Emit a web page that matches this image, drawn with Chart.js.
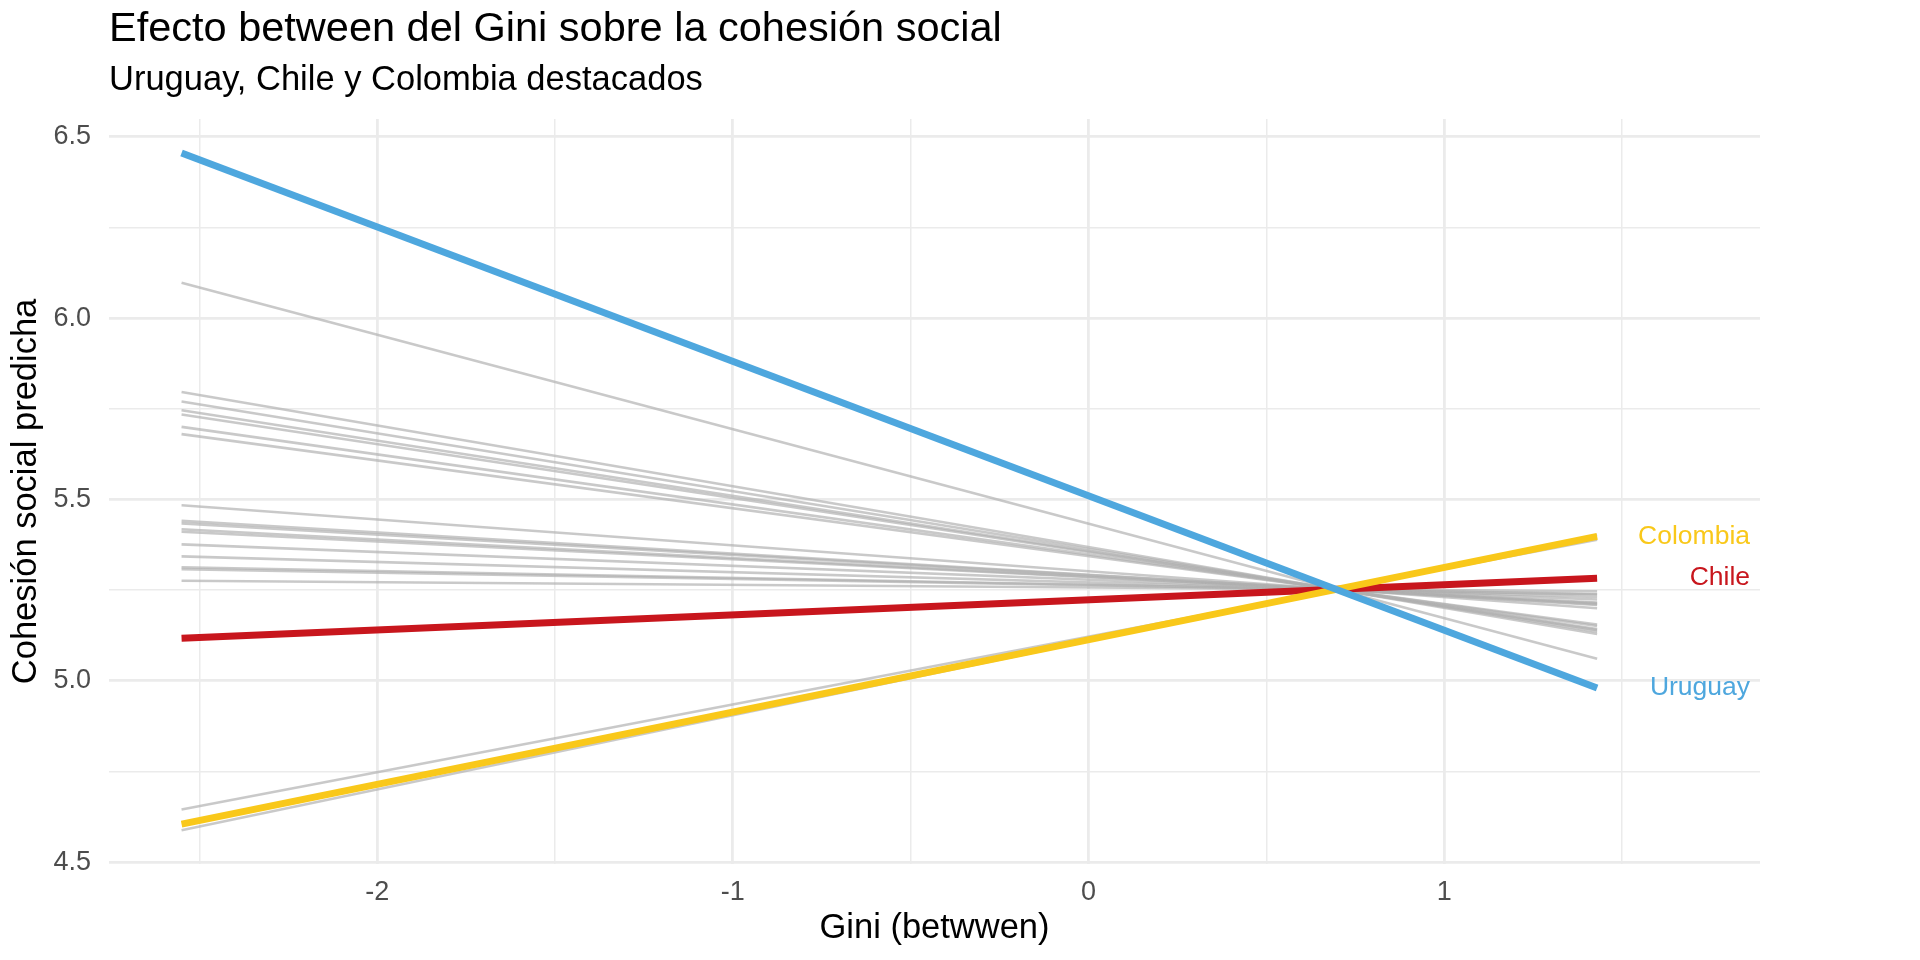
<!DOCTYPE html>
<html>
<head>
<meta charset="utf-8">
<style>
  html, body { margin: 0; padding: 0; background: #ffffff; }
  #wrap { width: 1920px; height: 960px; }
</style>
<script src="https://cdn.jsdelivr.net/npm/chart.js@4.4.1/dist/chart.umd.min.js"></script>
</head>
<body>
<div id="wrap"><canvas id="c" width="1920" height="960"></canvas></div>
<script>
// ---- data ----
const xStart = -2.55;           // Gini (between) at the left end of every line
const xEnd = 1.43;              // Gini (between) at the right end of every line
const labelX = 1.86;            // x position of the right-aligned country labels

// background countries (grey): predicted value at xStart and at xEnd
const greyStart = [6.097, 5.796, 5.770, 5.746, 5.734, 5.700, 5.680, 5.484, 5.441, 5.434,
                   5.418, 5.411, 5.376, 5.343, 5.313, 5.308, 5.276, 4.645, 4.588];
const greyEnd   = [5.061, 5.129, 5.135, 5.140, 5.143, 5.151, 5.155, 5.200, 5.209, 5.211,
                   5.214, 5.216, 5.224, 5.231, 5.238, 5.239, 5.247, 5.389, 5.402];

// highlighted countries
const hlNames  = ['Uruguay', 'Colombia', 'Chile'];
const hlStart  = [6.455, 4.605, 5.117];
const hlEnd    = [4.980, 5.398, 5.283];
const hlColors = ['#4EA7DE', '#F9C81A', '#C8161D'];

// axis ticks
const xTicks = [-2.5, -2, -1.5, -1, -0.5, 0, 0.5, 1, 1.5];
const yTicks = [4.5, 4.75, 5.0, 5.25, 5.5, 5.75, 6.0, 6.25, 6.5];

const titleText = 'Efecto between del Gini sobre la cohesión social';
const subtitleText = 'Uruguay, Chile y Colombia destacados';
const xTitle = 'Gini (betwwen)';
const yTitle = 'Cohesión social predicha';

// ---- build datasets ----
const datasets = [];
hlNames.forEach((n, i) => {
  datasets.push({
    label: n,
    data: [{x: xStart, y: hlStart[i]}, {x: xEnd, y: hlEnd[i]}],
    borderColor: hlColors[i],
    borderWidth: 7,
    pointRadius: 0,
    tension: 0,
    order: i
  });
});
greyStart.forEach((s, i) => {
  datasets.push({
    label: 'g' + i,
    data: [{x: xStart, y: s}, {x: xEnd, y: greyEnd[i]}],
    borderColor: 'rgba(175,175,175,0.68)',
    borderWidth: 2.6,
    pointRadius: 0,
    tension: 0,
    order: 10
  });
});

const FONT = '"Liberation Sans", Arial, Helvetica, sans-serif';
Chart.defaults.font.family = FONT;

const endLabels = {
  id: 'endLabels',
  afterDatasetsDraw(chart) {
    const ctx = chart.ctx;
    const xs = chart.scales.x, ys = chart.scales.y;
    ctx.save();
    ctx.font = '26.5px ' + FONT;
    ctx.textAlign = 'right';
    ctx.textBaseline = 'middle';
    hlNames.forEach((n, i) => {
      ctx.fillStyle = hlColors[i];
      ctx.fillText(n, xs.getPixelForValue(labelX), ys.getPixelForValue(hlEnd[i]));
    });
    ctx.restore();
  }
};

const isMajor = v => Math.abs(v * 2 - Math.round(v * 2)) < 1e-6 && Math.abs(v - Math.round(v)) < 1e-6;

new Chart(document.getElementById('c'), {
  type: 'line',
  data: { datasets },
  options: {
    responsive: false,
    devicePixelRatio: 1,
    animation: false,
    layout: { padding: { left: 0, right: 160, top: 0, bottom: 0 } },
    plugins: {
      legend: { display: false },
      tooltip: { enabled: false },
      title: {
        display: true, text: titleText, align: 'start', fullSize: false,
        color: '#000000', font: { size: 41.5, weight: 'normal' },
        padding: { top: 5, bottom: 0 }
      },
      subtitle: {
        display: true, text: subtitleText, align: 'start', fullSize: false,
        color: '#000000', font: { size: 34.5, weight: 'normal' },
        padding: { top: 5, bottom: 17.7 }
      }
    },
    scales: {
      x: {
        type: 'linear',
        min: -2.754, max: 1.888,
        afterBuildTicks: s => { s.ticks = xTicks.map(v => ({ value: v })); },
        afterFit: s => { s.height = 96; },
        ticks: {
          callback: v => (Math.abs(v - Math.round(v)) < 1e-6 ? String(Math.round(v)) : ''),
          color: '#4D4D4D', font: { size: 27 }, padding: 12.3, maxRotation: 0, autoSkip: false
        },
        grid: {
          color: '#EBEBEB',
          lineWidth: c => (Math.abs(c.tick.value - Math.round(c.tick.value)) < 1e-6 ? 2.8 : 1.5),
          drawTicks: false
        },
        border: { display: false },
        title: {
          display: true, text: xTitle, color: '#000000',
          font: { size: 34.5 }, padding: { top: 0, bottom: 11.3 }
        }
      },
      y: {
        type: 'linear',
        min: 4.495, max: 6.549,
        afterBuildTicks: s => { s.ticks = yTicks.map(v => ({ value: v })); },
        afterFit: s => { s.width = 109; },
        ticks: {
          callback: v => (Math.abs(v * 2 - Math.round(v * 2)) < 1e-6 ? v.toFixed(1) : ''),
          color: '#4D4D4D', font: { size: 27 }, padding: 18, autoSkip: false
        },
        grid: {
          color: '#EBEBEB',
          lineWidth: c => (Math.abs(c.tick.value * 2 - Math.round(c.tick.value * 2)) < 1e-6 ? 2.8 : 1.5),
          drawTicks: false
        },
        border: { display: false },
        title: {
          display: true, text: yTitle, color: '#000000',
          font: { size: 34.5 }, padding: { top: 5.3, bottom: 0 }
        }
      }
    }
  },
  plugins: [endLabels]
});
</script>
</body>
</html>
